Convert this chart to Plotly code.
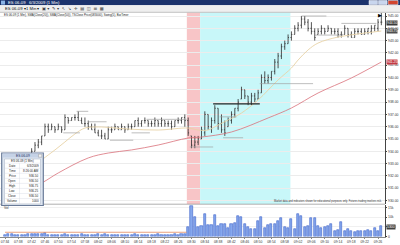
import plotly.graph_objects as go

W, H = 400, 245
def px(x): return x / W
def py(y): return 1 - y / H

# ---------------- data ----------------
bars = list(range(114))
opens = [930.5, 930.75, 931.0, 931.25, 931.5, 932.0, 932.25, 932.75, 933.5, 934.0,
         934.5, 934.75, 935.25, 936.0, 935.75, 936.0, 935.75, 936.0, 935.75, 936.75,
         936.5, 936.75, 936.75, 936.5, 936.25, 936.25, 936.0, 935.75, 935.5, 935.25,
         935.25, 935.0, 935.75, 935.75, 936.0, 935.75, 936.0, 935.75, 936.0, 936.0,
         936.5, 936.25, 936.5, 936.5, 936.25, 936.25, 936.5, 936.25, 936.5, 936.25,
         936.25, 936.0, 936.5, 936.5, 936.75, 936.5, 935.25, 934.5, 934.75, 935.0,
         935.5, 937.0, 936.0, 936.5, 937.5, 936.25, 935.75, 936.0, 936.5, 937.0,
         937.5, 938.25, 939.0, 938.5, 938.0, 938.5, 938.25, 938.75, 940.0, 939.75,
         940.0, 940.5, 941.25, 941.75, 942.5, 942.75, 943.25, 943.5, 944.0, 944.25,
         944.75, 944.5, 944.0, 943.75, 943.5, 943.75, 944.0, 943.75, 944.0, 943.75,
         943.75, 943.5, 943.5, 944.0, 943.5, 943.25, 943.75, 943.75, 943.5, 943.75,
         943.75, 944.0, 944.0, 944.5]
highs = [931.0, 931.25, 931.5, 931.75, 932.0, 932.5, 933.0, 933.25, 934.25, 934.75,
         935.0, 935.25, 936.25, 936.25, 936.25, 936.0, 936.25, 936.0, 937.0, 936.75,
         936.75, 937.0, 937.25, 936.75, 936.75, 936.5, 936.25, 936.25, 935.75, 935.75,
         935.5, 936.0, 936.0, 936.25, 936.0, 936.25, 936.0, 936.25, 936.25, 936.5,
         936.75, 936.5, 936.75, 936.5, 936.5, 936.75, 936.5, 936.75, 936.5, 936.5,
         936.5, 936.5, 936.75, 936.75, 937.0, 936.75, 935.25, 935.25, 935.25, 936.0,
         937.25, 937.0, 936.75, 937.75, 937.5, 937.0, 936.5, 936.75, 937.25, 937.5,
         938.25, 939.25, 939.0, 938.5, 938.75, 938.75, 939.0, 940.25, 940.5, 940.25,
         940.5, 941.5, 942.0, 942.75, 943.0, 943.5, 943.75, 944.25, 944.5, 945.0,
         945.0, 944.75, 944.5, 944.0, 944.0, 944.25, 944.0, 944.25, 944.0, 944.0,
         944.0, 943.75, 944.25, 944.0, 943.75, 944.0, 944.0, 944.0, 944.0, 944.0,
         944.25, 944.25, 944.75, 945.25]
lows = [930.25, 930.5, 930.75, 931.0, 931.25, 931.75, 932.0, 932.5, 933.5, 934.0,
        934.25, 934.5, 935.25, 935.5, 935.75, 935.5, 935.75, 935.5, 935.75, 936.25,
        936.5, 936.5, 936.5, 936.25, 936.0, 935.75, 935.75, 935.5, 935.25, 935.0,
        935.0, 935.0, 935.5, 935.75, 935.75, 935.75, 935.5, 935.75, 935.75, 936.0,
        936.0, 936.0, 936.25, 936.0, 936.0, 936.0, 936.0, 936.0, 936.0, 936.0,
        935.75, 936.0, 936.25, 936.25, 936.0, 935.25, 934.25, 934.25, 934.5, 935.0,
        935.25, 935.75, 935.5, 936.25, 935.75, 935.5, 935.25, 936.0, 936.25, 936.75,
        937.25, 938.25, 938.25, 937.75, 937.75, 938.0, 938.25, 938.75, 939.5, 939.5,
        939.75, 940.25, 940.75, 941.5, 942.25, 942.75, 943.0, 943.5, 943.75, 944.0,
        944.25, 943.75, 943.5, 943.0, 943.5, 943.5, 943.5, 943.75, 943.5, 943.5,
        943.25, 943.25, 943.5, 943.25, 943.25, 943.25, 943.5, 943.5, 943.5, 943.5,
        943.5, 943.75, 943.75, 944.25]
closes = [930.75, 931.0, 931.25, 931.75, 932.0, 932.25, 932.75, 933.25, 934.0, 934.5,
          934.75, 935.25, 936.0, 935.75, 936.0, 935.75, 936.0, 935.75, 936.75, 936.5,
          936.75, 936.75, 936.5, 936.25, 936.25, 936.0, 935.75, 935.5, 935.25, 935.25,
          935.0, 935.75, 935.75, 936.0, 935.75, 936.0, 935.75, 936.0, 936.0, 936.5,
          936.25, 936.5, 936.5, 936.25, 936.25, 936.5, 936.25, 936.5, 936.25, 936.25,
          936.0, 936.5, 936.5, 936.75, 936.5, 935.5, 934.5, 934.75, 935.0, 935.75,
          937.0, 936.0, 936.5, 937.5, 936.25, 935.75, 935.5, 936.5, 937.0, 937.5,
          938.0, 939.0, 938.5, 938.0, 938.5, 938.25, 938.75, 940.0, 939.75, 940.0,
          940.5, 941.25, 941.75, 942.5, 942.75, 943.25, 943.5, 944.0, 944.25, 944.75,
          944.5, 944.0, 943.75, 943.25, 943.75, 944.0, 943.75, 944.0, 943.75, 943.75,
          943.5, 943.5, 944.0, 943.5, 943.25, 943.75, 943.75, 943.5, 943.75, 944.0,
          944.0, 944.25, 944.5, 944.5]
volumes = [900, 1400, 1100, 700, 1000, 600, 800, 1300, 1500, 1200,
           1400, 1300, 1600, 1000, 800, 700, 900, 600, 1100, 800,
           700, 1000, 900, 1200, 700, 600, 900, 800, 1100, 700,
           1500, 900, 600, 800, 700, 1000, 800, 900, 600, 1200,
           700, 800, 1000, 600, 700, 900, 1100, 800, 700, 600,
           900, 1200, 1000, 1400, 1100,
           5150, 16000, 10300, 4800, 5670, 11700, 6200, 6200, 11300, 5670,
           6500, 6500, 4300, 6500, 6900, 10800, 10300, 6500, 5150, 3950,
           3950, 7900, 10300, 4450, 6200, 6500, 6500, 7900, 9600, 5150,
           4450, 9100, 3950, 11700, 10800, 4800, 5670, 9450, 9450, 5670,
           4300, 4800, 5300, 6500, 3100, 3450, 7400, 2750, 3950, 3100,
           2250, 2750, 3100, 3100, 3600, 2750, 4300, 3100, 5300]

# moving averages (sparse points)
fast_ma_bar = [0, 11, 15, 18, 21, 24, 28, 37, 46, 55, 58, 61, 64, 67, 71, 76, 82, 86, 88, 91, 94, 100, 106, 113]
fast_ma_val = [930.8, 933.29, 934.11, 934.76, 935.41, 935.89, 935.98, 935.81, 935.73, 935.89, 935.73, 935.73,
               936.14, 936.54, 937.11, 938.17, 939.80, 940.77, 941.42, 942.24, 942.80, 943.29, 943.54, 943.78]
slow_ma_bar = [0, 11, 16, 25, 31, 38, 46, 55, 59, 68, 79, 86, 94, 104, 113]
slow_ma_val = [930.04, 931.42, 932.24, 933.46, 933.86, 934.11, 934.51, 935.08, 935.16, 935.57,
               936.71, 937.52, 938.74, 939.96, 941.26]
vol_line_bar = [0, 54.5]
vol_line_val = [2200, 2200]

# horizontal swing / level lines
level_start = [17.5, 21.5, 25.0, 31.5, 38.0, 42.5, 55.5, 64.5, 65.5, 76.5, 89.0, 93.0, 101.0]
level_end = [22.5, 25.0, 30.5, 38.5, 43.5, 54.5, 62.5, 69.5, 71.5, 92.5, 96.5, 101.5, 111.5]
level_price = [935.5, 937.25, 936.4, 934.9, 935.5, 936.6, 934.35, 936.8, 935.1, 939.5, 945.0, 943.45, 944.4]
bold_start = [62.5]
bold_end = [76.5]
bold_price = [937.85]

# shaded session regions
shade_start = [54.6, 58.6]
shade_end = [58.6, 85.7]
shade_color = ["#f8c5c7", "#c8f7f9"]

# x tick labels
label_bars = list(range(0, 114, 4))
time_labels = ["07:34", "07:38", "07:42", "07:46", "07:50", "07:54", "07:58", "08:02", "08:06", "08:10",
               "08:14", "08:18", "08:22", "08:26", "08:30", "08:34", "08:38", "08:42", "08:46", "08:50",
               "08:54", "08:58", "09:02", "09:06", "09:10", "09:14", "09:18", "09:22", "09:26"]
price_ticks = [930, 931, 932, 933, 934, 935, 936, 937, 938, 939, 940, 941, 942, 943, 944, 945]
vol_ticks = [0, 5000, 10000, 15000]

databox_labels = ["Date", "Time", "Price", "Open", "High", "Low", "Close", "Volume"]
databox_values = ["6/3/2009", "8:26:00 AM", "936.50", "936.50", "936.75", "936.25", "936.50", "1000"]

# ---------------- figure ----------------
FONT = "Liberation Sans"
fig = go.Figure()

fig.add_trace(go.Ohlc(x=bars, open=opens, high=highs, low=lows, close=closes,
                      increasing=dict(line=dict(color="#2a2a2a", width=0.8)),
                      decreasing=dict(line=dict(color="#2a2a2a", width=0.8)),
                      tickwidth=0.28, xaxis="x", yaxis="y", hoverinfo="skip"))
fig.add_trace(go.Scatter(x=fast_ma_bar, y=fast_ma_val, mode="lines",
                         line=dict(color="#e8d2a6", width=0.9, shape="spline"), xaxis="x", yaxis="y"))
fig.add_trace(go.Scatter(x=slow_ma_bar, y=slow_ma_val, mode="lines",
                         line=dict(color="#d9707a", width=0.8, shape="spline"), xaxis="x", yaxis="y"))

lx, ly = [], []
for a, b, p in zip(level_start, level_end, level_price):
    lx += [a, b, None]; ly += [p, p, None]
fig.add_trace(go.Scatter(x=lx, y=ly, mode="lines", line=dict(color="#a0a0a0", width=0.7),
                         xaxis="x", yaxis="y"))
bx, by = [], []
for a, b, p in zip(bold_start, bold_end, bold_price):
    bx += [a, b, None]; by += [p, p, None]
fig.add_trace(go.Scatter(x=bx, y=by, mode="lines", line=dict(color="#222222", width=1.2),
                         xaxis="x", yaxis="y"))

fig.add_trace(go.Bar(x=bars, y=volumes, width=0.62, marker=dict(color="#86a8ee", line=dict(color="#3d63c9", width=0.6)),
                     xaxis="x", yaxis="y2"))
fig.add_trace(go.Scatter(x=vol_line_bar, y=vol_line_val, mode="lines", line=dict(color="#e58a5c", width=0.8),
                         xaxis="x", yaxis="y2"))

shapes = []
for a, b, c in zip(shade_start, shade_end, shade_color):
    shapes.append(dict(type="rect", xref="x", yref="paper", x0=a, x1=b, y0=py(204), y1=py(12.5),
                       fillcolor=c, line_width=0, layer="below"))

def rect(x0, y0, x1, y1, fill, line=None, lw=0, layer="above"):
    d = dict(type="rect", xref="paper", yref="paper", x0=px(x0), x1=px(x1), y0=py(y1), y1=py(y0),
             fillcolor=fill, layer=layer)
    d["line"] = dict(color=line, width=lw) if line else dict(width=0)
    shapes.append(d)

def hline(x0, x1, y, color, w=1):
    shapes.append(dict(type="line", xref="paper", yref="paper", x0=px(x0), x1=px(x1), y0=py(y), y1=py(y),
                       line=dict(color=color, width=w), layer="above"))

# window chrome
rect(0, 0, 400, 5.2, "#1c336c")
rect(1, 0.6, 5, 4.6, "#8ab3e6")
rect(369, 0.5, 377.5, 4.6, "#c9d6ee", "#ffffff", 0.5)
rect(378.5, 0.5, 387, 4.6, "#c9d6ee", "#ffffff", 0.5)
rect(388, 0.5, 398, 4.6, "#d2452f", "#ffffff", 0.5)
rect(0, 5.2, 400, 12.3, "#efefef")
hline(0, 400, 12.3, "#b4b4b4", 0.8)
# panel separators
hline(0, 385, 204.2, "#9a9a9a", 0.8)
# data box
rect(1.7, 153, 43.3, 205.5, "#dde5f0", "#6a7b98", 1.2)
rect(2.5, 153.6, 42.5, 157.6, "#c5d2e6")
rect(38.5, 154.2, 41.8, 157.2, "#f2f2f2", "#8a8a8a", 0.4)
rect(4.5, 159, 40.5, 204, "#ffffff", "#a7b1c2", 0.5)
for k in range(9):
    hline(4.5, 40.5, 163.2 + k * 5.05, "#d4d9e2", 0.4)
shapes.append(dict(type="line", xref="paper", yref="paper", x0=px(19.5), x1=px(19.5), y0=py(203.9), y1=py(163.2),
                   line=dict(color="#d4d9e2", width=0.4), layer="above"))

ann = []
def text(x, y, s, size=4, color="#222222", anchor="left", font=FONT, bg=None):
    d = dict(xref="paper", yref="paper", x=px(x), y=py(y), text=s, showarrow=False,
             xanchor=anchor, yanchor="middle", font=dict(size=size, color=color, family=font),
             borderpad=0)
    if bg:
        d["bgcolor"] = bg
    ann.append(d)

text(7, 2.7, "ES 06-09   6/3/2009 (1 Min)", 4.2, "#ffffff")
text(4, 8.8, "ES 06-09 \u25be", 4.2, "#111111")
text(25, 8.8, "1 Min \u25be", 4.2, "#111111")
text(41, 8.8, "\u25a3 \u25be  \u270e \u25be  \u2196  \u2198  \u271b  \u25a4  \u25eb  \u2630  \u25a6", 4.2, "#404040",
     font="DejaVu Sans")
text(3, 15.2, "ES 06-09 (1 Min), SMA(Close(20)), SMA(Close(50)), TSClose Price(083000), Swing(5), BarTimer",
     2.9, "#222222")
text(383, 201.3, "Market data and indicators shown for educational purposes only. Futures trading involves risk.",
     2.6, "#333333", anchor="right")
text(3, 207.5, "Vol", 3.3, "#333333")
text(22.5, 155.6, "ES 06-09", 3.3, "#1c2f5a", anchor="center")
text(22.5, 161.1, "ES 06-09 (1 Min)", 3.0, "#222222", anchor="center")
for k, (lab, val) in enumerate(zip(databox_labels, databox_values)):
    yy = 165.7 + k * 5.05
    text(12, yy, lab, 3.0, "#222222", anchor="center")
    text(39.5, yy, val, 3.0, "#222222", anchor="right")

# axis value markers
text(386, 22.6, "944.50", 3.4, "#ffffff", bg="#3a3a3a")
text(386, 31.0, "943.75", 3.4, "#ffffff", bg="#505050")
text(386, 62.0, "941.25", 3.4, "#ffffff", bg="#c23a44")
text(386, 226.5, "5300", 3.4, "#ffffff", bg="#404040")
text(380, 15.5, "\u25b6", 5, "#000000", anchor="center", font="DejaVu Sans")

fig.update_layout(
    width=W, height=H, margin=dict(l=0, r=0, t=0, b=0), autosize=False,
    template="none", paper_bgcolor="#ffffff", plot_bgcolor="#ffffff",
    showlegend=False, font=dict(family=FONT, size=4, color="#333333"),
    shapes=shapes, annotations=ann, bargap=0,
    xaxis=dict(domain=[0, 385 / 400], range=[-1.5, 114.1], anchor="y2",
               tickmode="array", tickvals=label_bars, ticktext=time_labels,
               tickfont=dict(size=3.4, color="#333333", family=FONT),
               showgrid=False, zeroline=False, showline=True, linecolor="#8a8a8a", linewidth=0.8,
               ticks="outside", ticklen=1.5, tickcolor="#8a8a8a", tickwidth=0.6,
               rangeslider=dict(visible=False), automargin=False, fixedrange=True),
    yaxis=dict(domain=[py(204), py(12.5)], range=[929.715, 945.285], side="right", anchor="x",
               tickmode="array", tickvals=price_ticks, tickformat=".2f",
               tickfont=dict(size=3.4, color="#333333", family=FONT),
               showgrid=True, gridcolor="#ececec", gridwidth=0.6, zeroline=False,
               showline=True, linecolor="#444444", linewidth=0.8,
               ticks="outside", ticklen=1.5, tickcolor="#444444", tickwidth=0.6, automargin=False),
    yaxis2=dict(domain=[py(236.5), py(205)], range=[0, 16300], side="right", anchor="x",
                tickmode="array", tickvals=vol_ticks,
                tickfont=dict(size=3.4, color="#333333", family=FONT),
                showgrid=True, gridcolor="#f0f0f0", gridwidth=0.6, zeroline=False,
                showline=True, linecolor="#444444", linewidth=0.8,
                ticks="outside", ticklen=1.5, tickcolor="#444444", tickwidth=0.6, automargin=False),
)

fig.write_html("out.html")
